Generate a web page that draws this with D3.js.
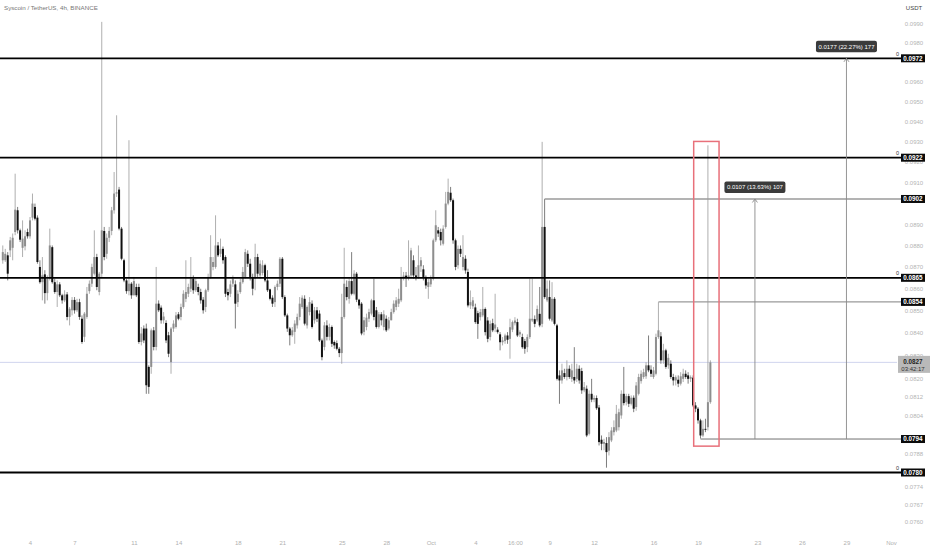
<!DOCTYPE html>
<html><head><meta charset="utf-8">
<script src="https://cdn.jsdelivr.net/npm/d3@7"></script>
<style>body{margin:0;background:#fff}svg{display:block}</style>
</head><body><svg id="c" width="932" height="550"></svg>
<script>
const title = "Syscoin / TetherUS, 4h, BINANCE";
const currency = "USDT";
const lastCandleTime = "2023-10-19T20:00:00Z";
const candleHours = 4;
// [open, high, low, close]
const candles = [
[.08731,.08800,.08715,.08769],[.08731,.08784,.08723,.08761],[.08754,.08769,.08638,.08669],[.08777,.08840,.08746,.08824],[.08789,.08856,.08731,.08836],
[.08863,.09142,.08848,.08969],[.08966,.08982,.08856,.08871],[.08871,.08879,.08816,.08827],[.08789,.08918,.08746,.08832],[.08796,.08871,.08777,.08843],
[.08863,.08879,.08832,.08843],[.08843,.08934,.08832,.08918],[.08931,.09046,.08918,.08998],[.08982,.08998,.08918,.08926],[.08931,.08942,.08715,.08723],
[.08700,.08731,.08623,.08630],[.08630,.08746,.08547,.08661],[.08666,.08685,.08532,.08580],[.08580,.08661,.08547,.08646],[.08646,.08879,.08638,.08800],
[.08792,.08800,.08623,.08630],[.08630,.08646,.08577,.08585],[.08585,.08638,.08517,.08620],[.08620,.08630,.08562,.08570],[.08570,.08577,.08532,.08547],
[.08547,.08593,.08539,.08574],[.08574,.08585,.08457,.08472],[.08472,.08517,.08434,.08509],[.08502,.08562,.08479,.08549],[.08549,.08562,.08487,.08502],
[.08502,.08554,.08494,.08539],[.08539,.08554,.08459,.08472],[.08464,.08479,.08352,.08360],[.08383,.08494,.08360,.08487],[.08472,.08608,.08464,.08577],
[.08589,.08638,.08577,.08623],[.08623,.08715,.08608,.08700],[.08669,.08871,.08661,.08746],[.08746,.08761,.08593,.08608],[.08585,.08677,.08570,.08669],
[.08669,.09910,.08654,.08871],[.08868,.08887,.08731,.08746],[.08761,.08856,.08738,.08836],[.08836,.08887,.08816,.08868],[.08868,.08982,.08848,.08966],
[.08966,.09150,.08950,.09046],[.09046,.09430,.09030,.09052],[.09065,.09078,.08871,.08879],[.08879,.08887,.08731,.08738],[.08731,.08738,.08630,.08638],
[.08638,.08646,.08577,.08589],[.08589,.09306,.08570,.08623],[.08623,.08630,.08554,.08570],[.08570,.08654,.08570,.08635],[.08608,.08623,.08562,.08570],
[.08608,.08623,.08352,.08360],[.08360,.08427,.08345,.08398],[.08420,.08434,.08355,.08367],[.08420,.08442,.08133,.08170],[.08250,.08257,.08133,.08163],
[.08250,.08420,.08220,.08412],[.08412,.08427,.08323,.08338],[.08338,.08700,.08323,.08532],[.08532,.08547,.08494,.08502],[.08514,.08524,.08442,.08457],
[.08457,.08494,.08442,.08474],[.08445,.08457,.08355,.08367],[.08390,.08405,.08293,.08308],[.08271,.08427,.08220,.08420],[.08420,.08457,.08405,.08442],
[.08427,.08494,.08420,.08479],[.08484,.08494,.08457,.08464],[.08472,.08532,.08457,.08517],[.08517,.08593,.08509,.08577],[.08554,.08731,.08539,.08585],
[.08577,.08623,.08562,.08608],[.08600,.08746,.08585,.08646],[.08646,.08661,.08577,.08593],[.08593,.08646,.08585,.08635],[.08608,.08623,.08570,.08585],
[.08585,.08600,.08532,.08547],[.08550,.08562,.08487,.08502],[.08517,.08600,.08494,.08593],[.08593,.08669,.08585,.08654],[.08654,.08848,.08646,.08746],
[.08700,.08746,.08685,.08723],[.08700,.08942,.08692,.08800],[.08800,.08816,.08746,.08754],[.08761,.08832,.08746,.08784],[.08784,.08795,.08715,.08731],
[.08746,.08754,.08562,.08577],[.08585,.08600,.08547,.08570],[.08577,.08638,.08562,.08620],
[.08623,.08661,.08608,.08646],[.08620,.08638,.08420,.08532],[.08539,.08593,.08517,.08577],[.08585,.08646,.08577,.08630],[.08630,.08700,.08623,.08677],
[.08654,.08784,.08646,.08769],[.08761,.08777,.08700,.08715],[.08715,.08738,.08638,.08654],[.08654,.08669,.08570,.08600],[.08646,.08808,.08593,.08746],
[.08746,.08761,.08654,.08669],[.08661,.08731,.08646,.08715],[.08672,.08731,.08661,.08708],[.08708,.08715,.08630,.08638],[.08638,.08685,.08585,.08593],
[.08597,.08600,.08547,.08554],[.08559,.08570,.08517,.08532],[.08539,.08615,.08517,.08608],[.08608,.08638,.08593,.08623],[.08623,.08746,.08608,.08738],
[.08738,.08746,.08554,.08562],[.08562,.08570,.08472,.08479],[.08479,.08487,.08405,.08420],[.08420,.08427,.08345,.08390],[.08390,.08427,.08383,.08412],
[.08405,.08457,.08352,.08442],[.08434,.08487,.08420,.08472],[.08472,.08562,.08457,.08532],[.08517,.08570,.08509,.08559],[.08554,.08570,.08434,.08442],
[.08434,.08524,.08420,.08517],[.08494,.08562,.08479,.08539],[.08532,.08547,.08420,.08427],[.08457,.08517,.08442,.08502],[.08502,.08517,.08449,.08464],
[.08487,.08502,.08360,.08367],[.08367,.08375,.08279,.08293],[.08338,.08449,.08323,.08434],[.08434,.08457,.08367,.08383],[.08383,.08442,.08367,.08427],
[.08427,.08434,.08338,.08352],[.08360,.08367,.08330,.08345],[.08355,.08367,.08323,.08330],[.08330,.08338,.08293,.08311],[.08311,.08577,.08264,.08472],
[.08472,.08789,.08464,.08623],[.08608,.08638,.08547,.08562],[.08554,.08646,.08532,.08635],[.08635,.08769,.08570,.08577],[.08577,.08685,.08570,.08669],
[.08669,.08677,.08539,.08550],[.08550,.08554,.08509,.08524],[.08532,.08539,.08390,.08398],[.08405,.08472,.08390,.08457],[.08427,.08487,.08412,.08469],
[.08464,.08509,.08449,.08494],[.08487,.08554,.08479,.08547],[.08547,.08646,.08457,.08472],[.08502,.08517,.08420,.08427],[.08427,.08494,.08420,.08484],
[.08484,.08494,.08434,.08457],[.08427,.08502,.08412,.08484],[.08464,.08479,.08405,.08412],[.08420,.08472,.08412,.08457],[.08457,.08509,.08457,.08494],
[.08494,.08547,.08487,.08532],[.08517,.08562,.08502,.08547],[.08532,.08600,.08517,.08554],[.08547,.08700,.08539,.08654],[.08654,.08677,.08638,.08660],
[.08660,.08677,.08608,.08651],[.08651,.08824,.08638,.08661],[.08661,.08789,.08654,.08777],[.08731,.08754,.08646,.08661],[.08661,.08700,.08638,.08654],
[.08654,.08800,.08646,.08708],[.08703,.08746,.08677,.08731],[.08689,.08708,.08638,.08654],[.08654,.08661,.08600,.08615],[.08608,.08646,.08554,.08630],
[.08620,.08661,.08608,.08646],[.08646,.08832,.08638,.08824],[.08824,.08966,.08816,.08895],[.08871,.08887,.08840,.08856],[.08863,.08879,.08800,.08824],
[.08808,.08895,.08800,.08879],[.08887,.09054,.08879,.08998],[.08998,.09118,.08990,.09054],[.09050,.09078,.09006,.09014],[.09014,.09022,.08808,.08824],
[.08824,.08832,.08685,.08700],[.08708,.08800,.08692,.08784],[.08784,.08800,.08746,.08761],
[.08700,.08848,.08684,.08746],[.08738,.08754,.08669,.08684],[.08677,.08692,.08515,.08524],[.08524,.08592,.08508,.08539],[.08520,.08562,.08508,.08547],
[.08515,.08532,.08441,.08449],[.08489,.08500,.08374,.08441],[.08471,.08508,.08456,.08494],[.08479,.08608,.08471,.08508],[.08508,.08515,.08389,.08404],
[.08456,.08471,.08359,.08374],[.08382,.08456,.08367,.08441],[.08444,.08464,.08404,.08412],[.08420,.08577,.08404,.08438],[.08415,.08426,.08397,.08404],
[.08394,.08404,.08323,.08359],[.08359,.08382,.08345,.08367],[.08364,.08397,.08352,.08389],[.08389,.08404,.08352,.08370],[.08374,.08464,.08286,.08426],
[.08415,.08456,.08404,.08449],[.08444,.08471,.08434,.08456],[.08449,.08464,.08382,.08389],[.08394,.08412,.08382,.08404],[.08382,.08397,.08330,.08337],
[.08364,.08374,.08308,.08330],[.08337,.08394,.08315,.08382],[.08382,.08646,.08374,.08464],[.08456,.08646,.08449,.08464],[.08462,.08479,.08426,.08441],
[.08456,.08524,.08449,.08508],[.08486,.08608,.08426,.08434],[.08441,.09298,.08426,.08887],[.08887,.09020,.08554,.08562],[.08547,.08638,.08539,.08600],
[.08562,.08638,.08456,.08464],[.08456,.08630,.08449,.08554],[.08554,.08562,.08434,.08441],[.08434,.08441,.08191,.08198],[.08213,.08235,.08090,.08191],
[.08191,.08264,.08177,.08235],[.08223,.08242,.08198,.08206],[.08206,.08279,.08191,.08242],[.08242,.08257,.08198,.08206],[.08198,.08264,.08184,.08235],
[.08206,.08337,.08177,.08191],[.08198,.08264,.08184,.08242],[.08242,.08257,.08177,.08191],[.08232,.08246,.08133,.08148],[.08148,.08184,.08140,.08162],
[.08155,.08169,.07948,.07955],[.07962,.08148,.07955,.08133],[.08133,.08198,.08097,.08108],[.08108,.08126,.08097,.08115],[.08115,.08126,.08064,.08071],
[.08074,.08085,.07913,.07927],[.07937,.07955,.07893,.07920],[.07920,.07941,.07893,.07927],[.07923,.07948,.07820,.07885],[.07891,.07969,.07871,.07948],
[.07934,.07990,.07927,.07976],[.07969,.08019,.07955,.07990],[.07976,.08085,.07969,.08047],[.07990,.08069,.07976,.08054],[.08040,.08148,.08026,.08133],
[.08133,.08250,.08083,.08093],[.08097,.08133,.08083,.08123],[.08123,.08133,.08076,.08090],[.08090,.08126,.08083,.08116],[.08116,.08126,.08054,.08069],
[.08076,.08184,.08060,.08169],[.08133,.08220,.08126,.08206],[.08188,.08235,.08177,.08220],[.08206,.08242,.08198,.08227],[.08209,.08271,.08198,.08257],
[.08257,.08389,.08227,.08235],[.08238,.08257,.08206,.08220],[.08206,.08250,.08198,.08235],[.08220,.08397,.08213,.08382],[.08382,.08539,.08374,.08412],
[.08385,.08404,.08264,.08279],[.08279,.08352,.08264,.08323],[.08323,.08330,.08242,.08250],[.08257,.08308,.08242,.08290],[.08264,.08279,.08198,.08206],
[.08206,.08220,.08169,.08191],[.08191,.08213,.08169,.08205],[.08194,.08213,.08162,.08177],[.08177,.08227,.08169,.08209],[.08198,.08242,.08184,.08220],
[.08220,.08235,.08198,.08206],[.08213,.08227,.08177,.08198],[.08198,.08213,.08184,.08206],[.08203,.08213,.08076,.08083],[.08083,.08097,.08054,.08069],
[.08069,.08076,.08005,.08019],[.08019,.08026,.07942,.07955],[.07955,.08019,.07948,.07983],[.07983,.08026,.07969,.07979],[.07990,.09281,.07976,.08097],
[.08097,.08279,.08090,.08270]
];
const priceTicks = [0.0990,0.0980,0.0960,0.0950,0.0940,0.0930,0.0920,0.0910,0.0890,0.0880,0.0870,0.0860,0.0850,0.0840,0.0830,0.0820,0.0812,0.0804,0.0788,0.0774,0.0767,0.0760];
const timeTicks = [["2023-09-04T00:00:00Z","4"],["2023-09-07T00:00:00Z","7"],["2023-09-11T00:00:00Z","11"],["2023-09-14T00:00:00Z","14"],["2023-09-18T00:00:00Z","18"],["2023-09-21T00:00:00Z","21"],["2023-09-25T00:00:00Z","25"],["2023-09-28T00:00:00Z","28"],["2023-10-01T00:00:00Z","Oct"],["2023-10-04T00:00:00Z","4"],["2023-10-06T16:00:00Z","16:00"],["2023-10-09T00:00:00Z","9"],["2023-10-12T00:00:00Z","12"],["2023-10-16T00:00:00Z","16"],["2023-10-19T00:00:00Z","19"],["2023-10-23T00:00:00Z","23"],["2023-10-26T00:00:00Z","26"],["2023-10-29T00:00:00Z","29"],["2023-11-01T00:00:00Z","Nov"]];
const keyLevels = [0.0972, 0.0922, 0.0865, 0.0780];
const sideLevels = [{p:0.0902, from:"2023-10-08T16:00:00Z", color:"#9a9a9a", w:1.4},{p:0.0854, from:"2023-10-16T08:00:00Z", color:"#9a9a9a", w:1.4},{p:0.0794, from:"2023-10-19T04:00:00Z", color:"#707070", w:1}];
const measures = [{from:0.0794, to:0.0902, at:"2023-10-22T20:00:00Z", label:"0.0107 (13.63%) 107"},{from:0.0794, to:0.0972, at:"2023-10-29T00:00:00Z", label:"0.0177 (22.27%) 177"}];
const highlight = {t0:"2023-10-18T17:00:00Z", t1:"2023-10-20T10:00:00Z", top:0.0930, bottom:0.0791};
const lastPrice = 0.0827, countdown = "03:42:17";

const svg = d3.select("#c");
const font = "'Liberation Sans', Arial, sans-serif";
svg.append("rect").attr("width",932).attr("height",550).attr("fill","#fff");

const x = d3.scaleUtc().domain([new Date("2023-09-04T00:00:00Z"), new Date("2023-11-01T00:00:00Z")]).range([30, 891]);
const y = d3.scaleLog().domain([0.0780, 0.0972]).range([472.5, 58.3]);
const lineEnd = 901;

const last = new Date(lastCandleTime).getTime();
const n = candles.length;
const data = candles.map((c,i)=>({t:new Date(last-(n-1-i)*candleHours*3600e3), o:c[0], h:c[1], l:c[2], c:c[3]}));

// header
svg.append("text").attr("x",4).attr("y",10).attr("font-family",font).attr("font-size",6.2).attr("fill","#777").text(title);
svg.append("text").attr("x",914).attr("y",10).attr("text-anchor","middle").attr("font-family",font).attr("font-size",6).attr("fill","#444").text(currency);

// price axis
const yAxis = d3.axisRight(y).tickValues(priceTicks).tickFormat(d3.format(".4f")).tickSize(0).tickPadding(0);
const ga = svg.append("g").attr("transform","translate(914,0)").call(yAxis);
ga.select(".domain").remove();
ga.selectAll("text").attr("text-anchor","middle").attr("x",0).attr("font-family",font).attr("font-size",6).attr("fill","#b4b4b4");

// time axis
const xAxis = d3.axisBottom(x).tickValues(timeTicks.map(d=>new Date(d[0]))).tickFormat((d,i)=>timeTicks[i][1]).tickSize(0).tickPadding(0);
const gx = svg.append("g").attr("transform","translate(0,540.5)").call(xAxis);
gx.select(".domain").remove();
gx.selectAll("text").attr("font-family",font).attr("font-size",6).attr("fill","#b0b0b0");

// last price line
svg.append("line").attr("x1",0).attr("x2",897).attr("y1",y(lastPrice)).attr("y2",y(lastPrice)).attr("stroke","#d0d4ee").attr("stroke-width",1);

// candles
const gc = svg.append("g");
gc.selectAll("line.w").data(data).join("line").attr("class","w")
  .attr("x1",d=>x(d.t)).attr("x2",d=>x(d.t)).attr("y1",d=>y(d.h)).attr("y2",d=>y(d.l))
  .attr("stroke",d=>d.c>=d.o?"#a0a0a0":"#666").attr("stroke-width",0.85);
gc.selectAll("rect.b").data(data).join("rect").attr("class","b")
  .attr("x",d=>x(d.t)-1).attr("width",2)
  .attr("y",d=>y(Math.max(d.o,d.c))).attr("height",d=>Math.max(0.9, y(Math.min(d.o,d.c))-y(Math.max(d.o,d.c))))
  .attr("fill",d=>d.c>=d.o?"#8e8e8e":"#111");

// side levels
sideLevels.forEach(s=>{
  svg.append("line").attr("x1",x(new Date(s.from))).attr("x2",lineEnd).attr("y1",y(s.p)).attr("y2",y(s.p)).attr("stroke",s.color).attr("stroke-width",s.w);
});
// key levels
keyLevels.forEach(p=>{
  svg.append("line").attr("x1",0).attr("x2",lineEnd).attr("y1",y(p)).attr("y2",y(p)).attr("stroke","#000").attr("stroke-width",1.8);
  svg.append("text").attr("x",897.5).attr("y",y(p)-2.5).attr("text-anchor","middle").attr("font-family",font).attr("font-size",5.5).attr("fill","#333").text("0");
});

// measures
measures.forEach(m=>{
  const mx = x(new Date(m.at)), y0 = y(m.from), y1 = y(m.to);
  svg.append("line").attr("x1",mx).attr("x2",mx).attr("y1",y0).attr("y2",y1).attr("stroke","#8a8a8a").attr("stroke-width",0.9);
  svg.append("path").attr("d",`M${mx-2.5},${y1+3.5}L${mx},${y1}L${mx+2.5},${y1+3.5}`).attr("fill","none").attr("stroke","#8a8a8a").attr("stroke-width",0.9);
  const bw = 61, bh = 11.5;
  svg.append("rect").attr("x",mx-bw/2).attr("y",y1-6-bh).attr("width",bw).attr("height",bh).attr("rx",2).attr("fill","#3b3b3b");
  svg.append("text").attr("x",mx).attr("y",y1-6-bh/2+2.1).attr("text-anchor","middle").attr("font-family",font).attr("font-size",6).attr("fill","#fff").text(m.label);
});

// highlight box
svg.append("rect").attr("x",x(new Date(highlight.t0))).attr("width",x(new Date(highlight.t1))-x(new Date(highlight.t0)))
  .attr("y",y(highlight.top)).attr("height",y(highlight.bottom)-y(highlight.top))
  .attr("fill","none").attr("stroke","#e8707a").attr("stroke-width",1.5);

// price boxes
const boxLevels = [0.0972,0.0922,0.0902,0.0865,0.0854,0.0794,0.0780];
boxLevels.forEach(p=>{
  svg.append("rect").attr("x",901).attr("y",y(p)-4).attr("width",24).attr("height",8).attr("fill","#0b0b0b");
  svg.append("text").attr("x",913).attr("y",y(p)+2.2).attr("text-anchor","middle").attr("font-family",font).attr("font-size",6.3).attr("font-weight","bold").attr("fill","#fff").text(d3.format(".4f")(p));
});
const ly = y(lastPrice);
svg.append("rect").attr("x",898).attr("y",ly-6.5).attr("width",32).attr("height",17).attr("fill","#b9b9b9");
svg.append("text").attr("x",913).attr("y",ly+1.5).attr("text-anchor","middle").attr("font-family",font).attr("font-size",6.3).attr("font-weight","bold").attr("fill","#222").text(d3.format(".4f")(lastPrice));
svg.append("text").attr("x",913).attr("y",ly+8.5).attr("text-anchor","middle").attr("font-family",font).attr("font-size",6).attr("fill","#333").text(countdown);
</script></body></html>
